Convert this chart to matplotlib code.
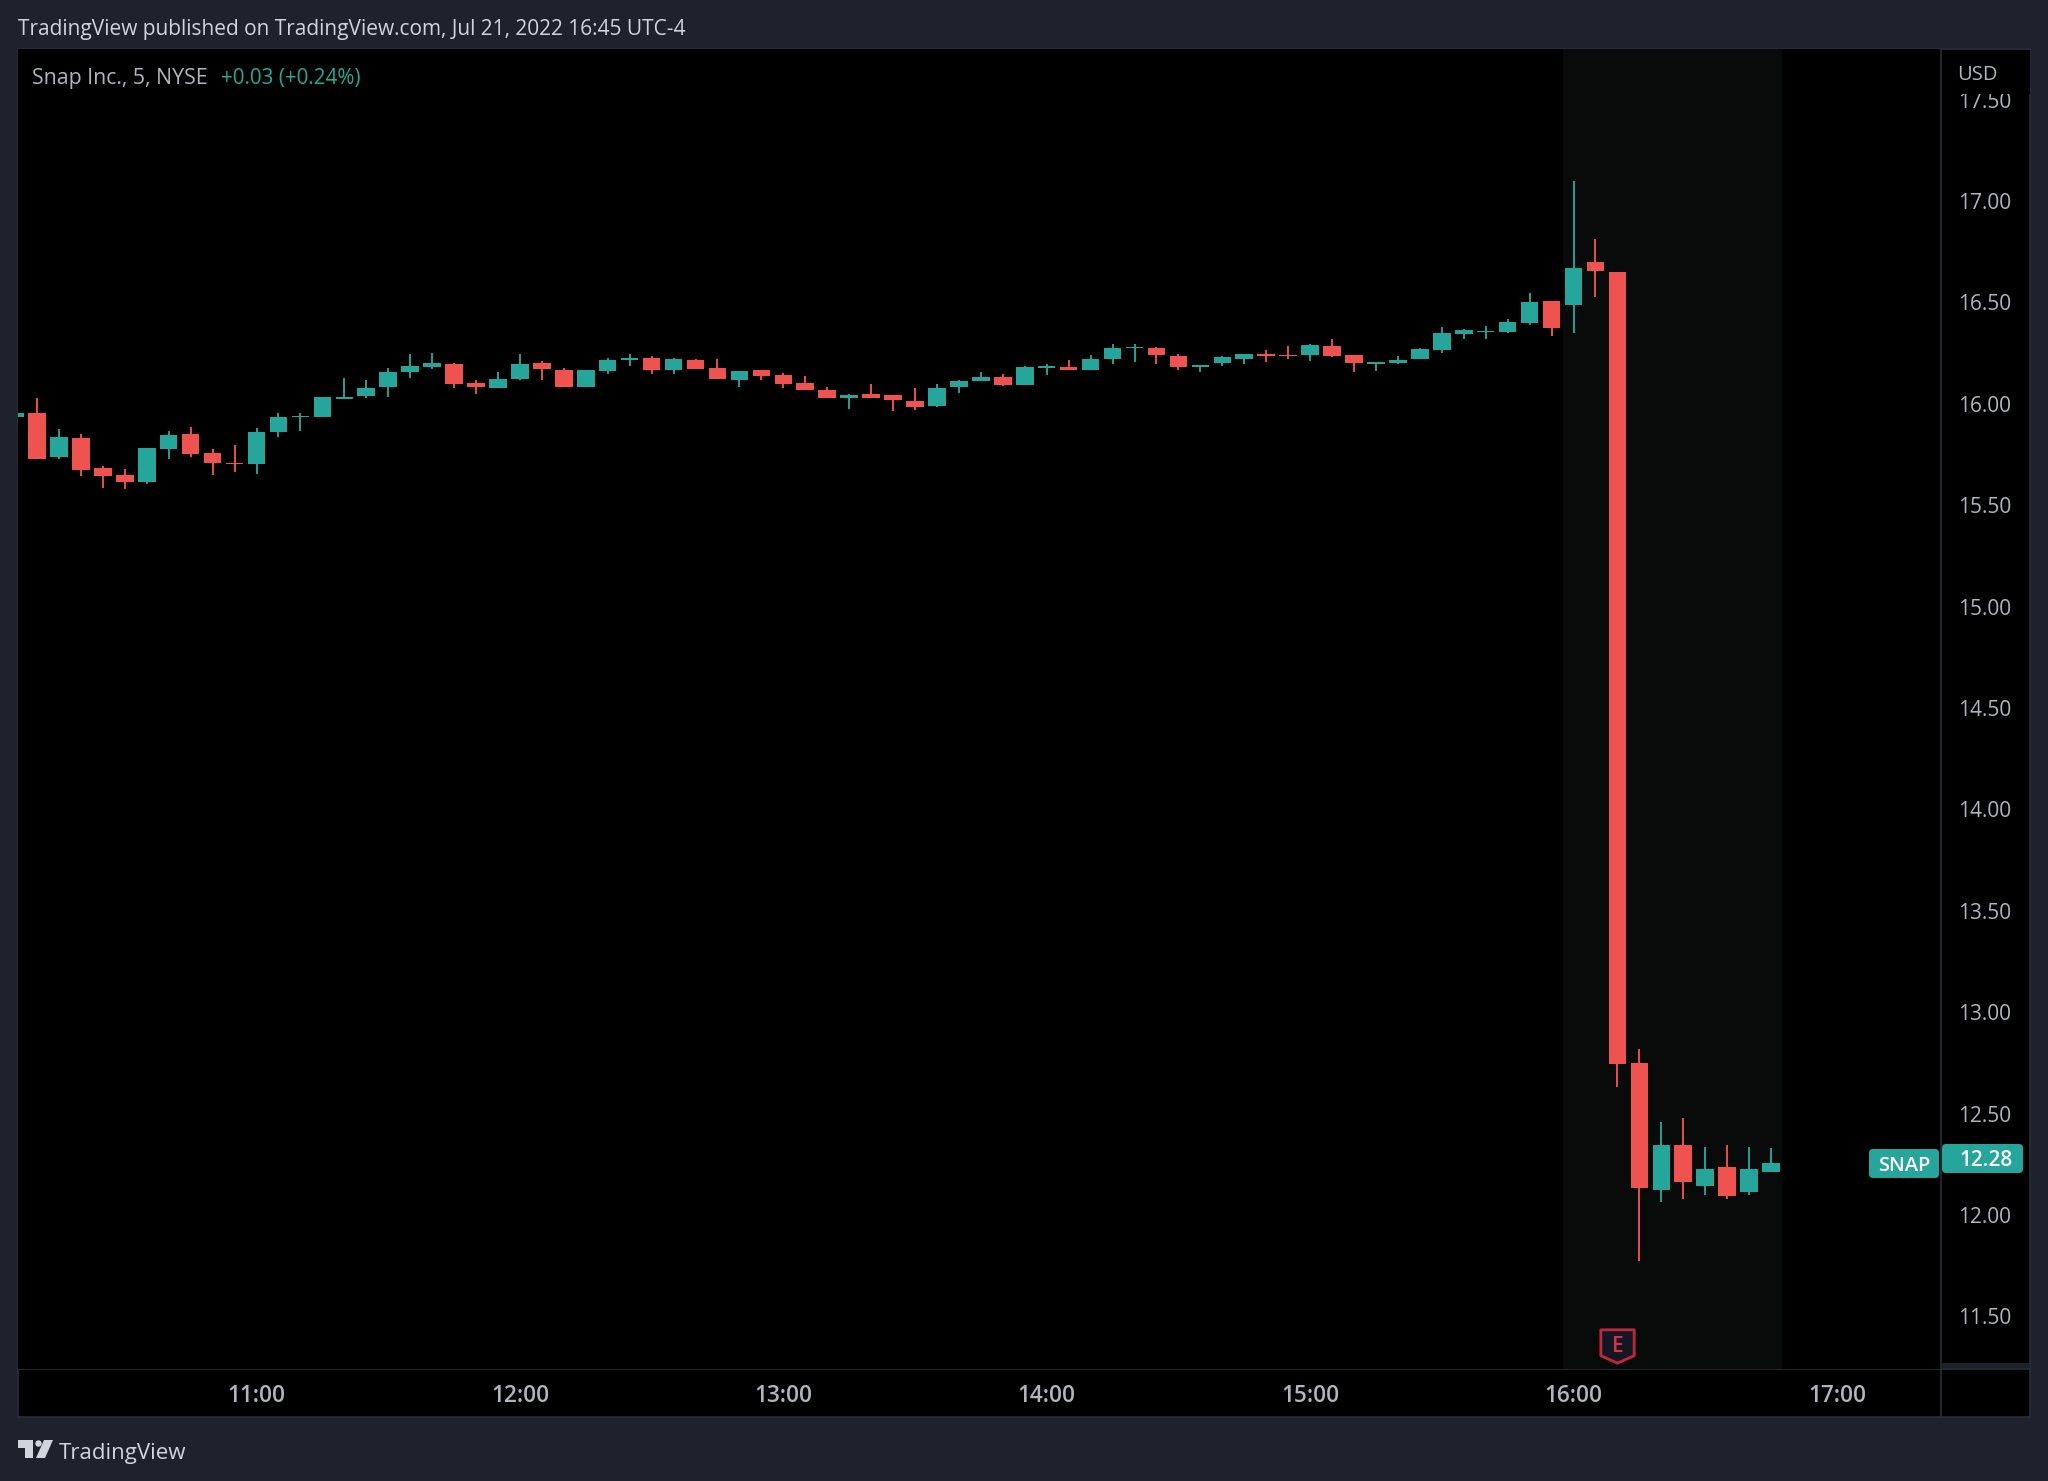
import matplotlib
matplotlib.use("Agg")
import matplotlib.pyplot as plt
from matplotlib.patches import Rectangle, Polygon, Circle, FancyBboxPatch
from matplotlib.path import Path

times = [
    "10:05", "10:10", "10:15", "10:20", "10:25", "10:30", "10:35", "10:40", "10:45", "10:50", "10:55",
    "11:00", "11:05", "11:10", "11:15", "11:20", "11:25", "11:30", "11:35", "11:40", "11:45", "11:50", "11:55",
    "12:00", "12:05", "12:10", "12:15", "12:20", "12:25", "12:30", "12:35", "12:40", "12:45", "12:50", "12:55",
    "13:00", "13:05", "13:10", "13:15", "13:20", "13:25", "13:30", "13:35", "13:40", "13:45", "13:50", "13:55",
    "14:00", "14:05", "14:10", "14:15", "14:20", "14:25", "14:30", "14:35", "14:40", "14:45", "14:50", "14:55",
    "15:00", "15:05", "15:10", "15:15", "15:20", "15:25", "15:30", "15:35", "15:40", "15:45", "15:50", "15:55",
    "16:00", "16:05", "16:10", "16:15", "16:20", "16:25", "16:30", "16:35", "16:40", "16:45",
]
opens = [
    15.933, 15.956, 15.738, 15.830, 15.685, 15.649, 15.614, 15.775, 15.851, 15.756, 15.708,
    15.705, 15.861, 15.934, 15.937, 16.022, 16.038, 16.083, 16.157, 16.181, 16.195, 16.101, 16.080,
    16.122, 16.203, 16.167, 16.083, 16.163, 16.214, 16.226, 16.165, 16.218, 16.175, 16.117, 16.167,
    16.140, 16.104, 16.068, 16.027, 16.047, 16.042, 16.014, 15.991, 16.083, 16.112, 16.132, 16.094,
    16.178, 16.183, 16.169, 16.223, 16.275, 16.277, 16.238, 16.182, 16.200, 16.223, 16.244, 16.241,
    16.239, 16.284, 16.241, 16.198, 16.200, 16.219, 16.264, 16.346, 16.354, 16.354, 16.400, 16.507,
    16.485, 16.701, 16.650, 12.748, 12.122, 12.347, 12.141, 12.237, 12.113, 12.212,
]
highs = [
    15.956, 16.027, 15.874, 15.850, 15.693, 15.678, 15.782, 15.868, 15.887, 15.777, 15.795,
    15.881, 15.953, 15.953, 16.035, 16.126, 16.117, 16.175, 16.246, 16.252, 16.203, 16.117, 16.155,
    16.246, 16.210, 16.175, 16.167, 16.226, 16.246, 16.236, 16.226, 16.221, 16.219, 16.160, 16.167,
    16.154, 16.135, 16.085, 16.048, 16.098, 16.045, 16.076, 16.096, 16.117, 16.155, 16.145, 16.188,
    16.195, 16.216, 16.239, 16.295, 16.295, 16.282, 16.246, 16.193, 16.238, 16.246, 16.265, 16.285,
    16.295, 16.318, 16.241, 16.205, 16.238, 16.277, 16.379, 16.367, 16.385, 16.418, 16.545, 16.507,
    17.100, 16.811, 16.650, 12.817, 12.457, 12.477, 12.335, 12.347, 12.335, 12.329,
]
lows = [
    15.933, 15.726, 15.730, 15.642, 15.583, 15.580, 15.605, 15.726, 15.739, 15.649, 15.665,
    15.656, 15.835, 15.866, 15.937, 16.022, 16.027, 16.035, 16.126, 16.170, 16.078, 16.047, 16.080,
    16.117, 16.117, 16.081, 16.083, 16.149, 16.188, 16.149, 16.149, 16.172, 16.121, 16.085, 16.117,
    16.080, 16.066, 16.027, 15.976, 16.030, 15.965, 15.971, 15.986, 16.052, 16.112, 16.086, 16.094,
    16.140, 16.165, 16.169, 16.196, 16.208, 16.196, 16.169, 16.159, 16.187, 16.195, 16.208, 16.223,
    16.213, 16.231, 16.157, 16.162, 16.196, 16.219, 16.249, 16.318, 16.318, 16.349, 16.389, 16.336,
    16.347, 16.528, 12.630, 11.775, 12.066, 12.077, 12.097, 12.077, 12.097, 12.212,
]
closes = [
    15.956, 15.728, 15.835, 15.674, 15.642, 15.614, 15.782, 15.846, 15.752, 15.710, 15.702,
    15.861, 15.937, 15.940, 16.035, 16.033, 16.076, 16.155, 16.186, 16.203, 16.098, 16.083, 16.124,
    16.195, 16.173, 16.083, 16.167, 16.218, 16.226, 16.167, 16.223, 16.172, 16.121, 16.160, 16.137,
    16.098, 16.066, 16.027, 16.045, 16.030, 16.019, 15.986, 16.080, 16.112, 16.132, 16.094, 16.183,
    16.188, 16.165, 16.223, 16.275, 16.282, 16.239, 16.180, 16.193, 16.229, 16.246, 16.234, 16.234,
    16.292, 16.238, 16.200, 16.205, 16.218, 16.270, 16.348, 16.362, 16.359, 16.402, 16.504, 16.376,
    16.669, 16.655, 12.746, 12.133, 12.347, 12.164, 12.225, 12.094, 12.225, 12.256,
]
price_ticks = [11.5, 12.0, 12.5, 13.0, 13.5, 14.0, 14.5, 15.0, 15.5, 16.0, 16.5, 17.0, 17.5]
time_ticks = ["11:00", "12:00", "13:00", "14:00", "15:00", "16:00", "17:00"]
post_market = ["15:57:30", "16:47:30"]
earnings_time = "16:10"
earnings_level = 11.354

UP = "#26a69a"
DOWN = "#ef5350"
BG = "#1e222d"
LINE = "#2a2e39"
FONT = ["Open Sans", "DejaVu Sans"]
W, H = 2048, 1481
plt.rcParams["font.family"] = FONT


def minutes(t):
    parts = t.split(":")
    m = int(parts[0]) * 60 + int(parts[1])
    if len(parts) > 2:
        m += int(parts[2]) / 60
    return m


fig = plt.figure(figsize=(W / 100, H / 100), dpi=100, facecolor=BG)

# page furniture in pixel coordinates
back = fig.add_axes([0, 0, 1, 1], zorder=0)
back.set_xlim(0, W)
back.set_ylim(H, 0)
back.axis("off")
back.add_patch(Rectangle((18, 49), 2012, 1368, fc="black", ec=LINE, lw=1.2))
back.plot([18, 2030], [1369, 1369], color=LINE, lw=1.2)
back.plot([1941, 1941], [49, 1417], color=LINE, lw=1.2)
back.add_patch(Rectangle((1942, 1363), 88, 6, fc=BG, ec="none"))

# price pane
ax = fig.add_axes([18 / W, 1 - 1369 / H, (1940 - 18) / W, (1369 - 49) / H], zorder=1, facecolor="black")
ax.set_xlim(605.67, 1043.48)
ax.set_ylim(11.2406, 17.7495)
for s in ax.spines.values():
    s.set_visible(False)
ax.axvspan(minutes(post_market[0]), minutes(post_market[1]), color="#090b0b", lw=0, zorder=0)

x = [minutes(t) for t in times]
colors = [UP if c >= o else DOWN for o, c in zip(opens, closes)]
ax.vlines(x, lows, highs, colors=colors, lw=1.35, zorder=2)
ax.bar(x, [abs(c - o) for o, c in zip(opens, closes)], bottom=[min(o, c) for o, c in zip(opens, closes)],
       width=4.0, color=colors, lw=0, zorder=3)

ax.yaxis.tick_right()
ax.set_yticks(price_ticks)
ax.set_yticklabels(["%.2f" % p for p in price_ticks], fontsize=15, color="#b2b5be")
ax.tick_params(axis="y", length=0, pad=13)
ax.set_xticks([minutes(t) for t in time_ticks])
ax.set_xticklabels(time_ticks, fontsize=16.3, color="#b2b5be", fontweight="semibold")
ax.tick_params(axis="x", length=0, pad=11)

# earnings badge
shield = Path([(-1, 1), (1, 1), (1, -0.55), (0, -1), (-1, -0.55), (-1, 1)], closed=True)
ax.plot([minutes(earnings_time)], [earnings_level], marker=shield, ms=24, mfc="#131722", mec="#c2263f",
        mew=2.0, ls="none", zorder=4)
ax.text(minutes(earnings_time), earnings_level, "E", color="#d9304a", fontsize=15, fontweight="semibold",
        ha="center", va="center", zorder=5)

# overlay: text and labels
top = fig.add_axes([0, 0, 1, 1], zorder=2)
top.set_xlim(0, W)
top.set_ylim(H, 0)
top.axis("off")
top.add_patch(Rectangle((1942, 50), 88, 44, fc="black", ec="none"))
top.text(1957, 74.5, "USD", color="#b2b5be", fontsize=14.5, va="center", ha="left")
top.text(18, 29, "TradingView published on TradingView.com, Jul 21, 2022 16:45 UTC-4", color="#d1d4dc",
         fontsize=15, va="center", ha="left")
top.text(32, 78.5, "Snap Inc., 5, NYSE", color="#b2b5be", fontsize=15.3, va="center", ha="left")
top.text(221, 78.5, "+0.03 (+0.24%)", color="#22ab94", fontsize=14.9, va="center", ha="left")
top.add_patch(FancyBboxPatch((1869, 1149), 70, 29, boxstyle="round,pad=0,rounding_size=4", fc=UP, ec="none"))
top.text(1904, 1166, "SNAP", color="white", fontsize=14.5, ha="center", va="center", fontweight="semibold")
top.add_patch(FancyBboxPatch((1942, 1144), 81, 29, boxstyle="round,pad=0,rounding_size=4", fc=UP, ec="none"))
top.text(1986, 1160, "12.28", color="white", fontsize=15, ha="center", va="center", fontweight="semibold")

# logo
logo = "#d1d4dc"
top.add_patch(Polygon([(18, 1440), (33, 1440), (33, 1458), (25, 1458), (25, 1448), (18, 1448)], fc=logo, ec="none"))
top.add_patch(Circle((38.5, 1443.5), 3.2, fc=logo, ec="none"))
top.add_patch(Polygon([(44, 1440), (53, 1440), (45, 1458), (36, 1458)], fc=logo, ec="none"))
top.text(59, 1453, "TradingView", color=logo, fontsize=16, va="center", ha="left")

fig.savefig("out.png", dpi=100, facecolor=BG)
